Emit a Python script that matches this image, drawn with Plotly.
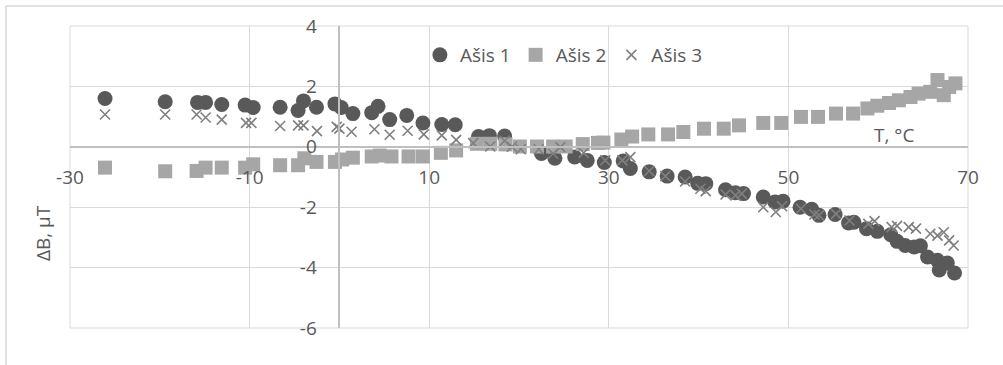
import plotly.graph_objects as go

# Temperature (°C) and field deviation (µT) for each axis
t1 = [-26.1, -19.4, -15.8, -14.9, -13.1, -10.5, -9.6, -6.6, -4.6, -4.0, -2.55, -0.5, 0.2,
      1.5, 3.6, 4.3, 5.6, 7.5, 9.3, 11.4, 12.9, 15.5, 16.7, 18.4, 22.5, 24.0, 26.2, 27.6,
      29.5, 31.6, 32.4, 34.5, 36.5, 38.5, 39.9, 40.8, 43.0, 44.1, 45.0, 47.2, 48.5, 49.4,
      51.3, 52.6, 53.4, 55.2, 56.7, 57.3, 58.7, 59.9, 61.4, 62.1, 63.0, 64.0, 64.7, 65.5,
      66.6, 66.8, 67.7, 68.5]
b1 = [1.60, 1.49, 1.47, 1.47, 1.40, 1.38, 1.30, 1.31, 1.20, 1.52, 1.31, 1.42, 1.30,
      1.10, 1.13, 1.34, 0.90, 1.04, 0.79, 0.74, 0.73, 0.34, 0.37, 0.36, -0.22, -0.38, -0.34, -0.45,
      -0.52, -0.47, -0.72, -0.83, -0.97, -1.00, -1.21, -1.22, -1.42, -1.52, -1.55, -1.66, -1.83, -1.80,
      -2.00, -2.07, -2.27, -2.24, -2.52, -2.50, -2.71, -2.80, -2.91, -3.13, -3.27, -3.32, -3.28, -3.65,
      -3.76, -4.08, -3.85, -4.18]

t2 = [-26.1, -19.4, -15.9, -14.9, -13.1, -10.5, -9.6, -6.6, -4.6, -3.9, -2.55, -0.5, 0.3,
      1.5, 3.6, 4.5, 5.8, 7.7, 9.3, 11.3, 13.0, 15.3, 16.8, 18.5, 20.1, 22.0, 23.8, 25.2,
      27.1, 28.8, 29.4, 31.4, 32.6, 34.4, 36.6, 38.3, 40.6, 42.8, 44.5, 47.2, 49.2, 51.4,
      53.3, 55.3, 57.2, 58.8, 59.9, 61.2, 62.3, 63.6, 64.5, 65.8, 66.6, 67.3, 67.9, 68.6]
b2 = [-0.69, -0.81, -0.80, -0.69, -0.69, -0.69, -0.58, -0.61, -0.61, -0.38, -0.50, -0.50, -0.42,
      -0.36, -0.32, -0.29, -0.32, -0.32, -0.32, -0.20, -0.12, 0.10, 0.10, 0.08, 0.01, 0.01, 0.01, 0.01,
      0.09, 0.13, 0.14, 0.24, 0.34, 0.41, 0.41, 0.49, 0.60, 0.60, 0.71, 0.79, 0.79, 0.99,
      0.99, 1.10, 1.10, 1.27, 1.36, 1.45, 1.54, 1.65, 1.76, 1.82, 2.21, 1.71, 1.98, 2.10]

t3 = [-26.1, -19.4, -15.9, -14.9, -13.1, -10.4, -9.8, -6.6, -4.6, -4.0, -2.5, -0.3, 0.0,
      1.35, 3.9, 5.6, 7.6, 9.4, 11.4, 13.0, 14.9, 16.8, 18.4, 19.2, 20.2, 22.2, 23.8, 24.6,
      27.2, 29.6, 31.5, 32.4, 34.5, 36.3, 38.5, 40.2, 40.8, 43.0, 44.1, 44.8, 47.2, 48.6,
      49.3, 51.4, 52.9, 53.4, 55.3, 56.8, 58.9, 59.6, 61.5, 62.1, 63.4, 64.2, 65.8, 66.6,
      67.3, 67.9, 68.4]
b3 = [1.07, 1.07, 1.07, 0.97, 0.90, 0.79, 0.79, 0.69, 0.71, 0.71, 0.52, 0.66, 0.60,
      0.50, 0.58, 0.40, 0.53, 0.41, 0.38, 0.23, 0.12, 0.01, 0.20, 0.00, -0.08, -0.08, -0.23, -0.01,
      -0.20, -0.45, -0.45, -0.34, -0.80, -0.97, -1.15, -1.39, -1.47, -1.58, -1.61, -1.55, -2.00, -2.16,
      -1.97, -2.05, -2.24, -2.27, -2.22, -2.44, -2.55, -2.46, -2.66, -2.62, -2.66, -2.71, -2.88, -2.94,
      -2.83, -3.10, -3.27]

x_ticks = [-30, -10, 10, 30, 50, 70]
y_ticks = [-6, -4, -2, 0, 2, 4]

text_col = "#595959"
grid_col = "#d9d9d9"
axis_col = "#bfbfbf"
font = dict(family="Open Sans, sans-serif", size=19, color=text_col)

fig = go.Figure()
fig.add_trace(go.Scatter(x=t1, y=b1, mode="markers", name="Ašis 1",
                         marker=dict(symbol="circle", size=15, color="#595959")))
fig.add_trace(go.Scatter(x=t2, y=b2, mode="markers", name="Ašis 2",
                         marker=dict(symbol="square", size=14, color="#a6a6a6")))
fig.add_trace(go.Scatter(x=t3, y=b3, mode="markers", name="Ašis 3",
                         marker=dict(symbol="x-thin-open", size=10,
                                     color="#7f7f7f", line=dict(width=1.6, color="#7f7f7f"))))

fig.update_layout(
    width=1003, height=365,
    margin=dict(l=70, r=35, t=26, b=37),
    paper_bgcolor="white", plot_bgcolor="white",
    font=font,
    showlegend=True,
    legend=dict(orientation="h", x=0.55, xanchor="center", y=0.904, yanchor="middle",
                bgcolor="rgba(0,0,0,0)", font=font, itemwidth=30, tracegroupgap=0),
    xaxis=dict(range=[-30, 70], tickmode="array", tickvals=x_ticks,
               ticktext=[str(v) for v in x_ticks],
               showgrid=True, gridcolor=grid_col, gridwidth=1, zeroline=False,
               showline=True, linecolor=axis_col, linewidth=1.5,
               anchor="free", position=0.6, ticks="", ticklabelstandoff=14,
               tickfont=font),
    yaxis=dict(range=[-6, 4], tickmode="array", tickvals=y_ticks,
               ticktext=[str(v) for v in y_ticks],
               showgrid=True, gridcolor=grid_col, gridwidth=1, zeroline=False,
               showline=True, linecolor=axis_col, linewidth=1.5,
               anchor="free", position=0.3, ticks="", ticklabelstandoff=18,
               tickfont=font),
    annotations=[
        dict(text="T, °C", xref="paper", yref="paper", x=0.9176, y=0.639,
             xanchor="center", yanchor="middle", showarrow=False, font=font),
        dict(text="ΔB, µT", xref="paper", yref="paper", x=-0.030, y=0.3146,
             xanchor="center", yanchor="middle", textangle=-90, showarrow=False, font=font),
    ],
    shapes=[
        # gridlines along the plot edges (x = -30, 70; y = -6, 4)
        dict(type="rect", xref="paper", yref="paper", x0=0, x1=1, y0=0, y1=1,
             line=dict(color=grid_col, width=1), layer="below"),
        # outer chart frame (top and left edges)
        dict(type="line", xref="paper", yref="paper", x0=(6 - 70) / 898, x1=1.05,
             y0=(328 - 6) / 302, y1=(328 - 6) / 302, line=dict(color=grid_col, width=1.5)),
        dict(type="line", xref="paper", yref="paper", x0=(6 - 70) / 898, x1=(6 - 70) / 898,
             y0=(328 - 6) / 302, y1=-0.2, line=dict(color=grid_col, width=1.5)),
    ],
)

fig.write_html("out.html")
